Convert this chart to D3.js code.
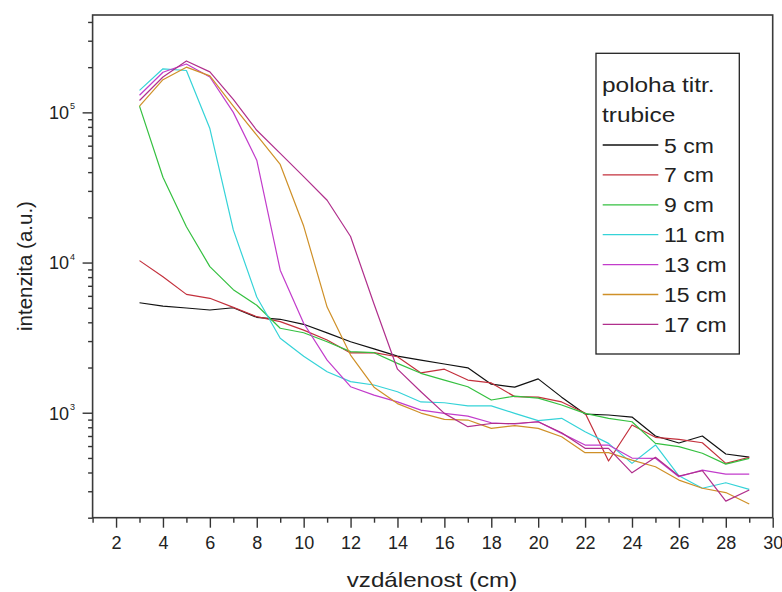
<!DOCTYPE html>
<html><head><meta charset="utf-8">
<script src="https://cdn.jsdelivr.net/npm/d3@7"></script>
<style>body{margin:0;background:#fff}svg{display:block}text{font-family:"Liberation Sans",Arial,sans-serif;fill:#222}</style>
</head><body><svg id="c" width="782" height="592"></svg>
<script>
const xs = [3,4,5,6,7,8,9,10,11,12,13,14,15,16,17,18,19,20,21,22,23,24,25,26,27,28,29];
const s5  = [5400,5130,4980,4830,5000,4320,4190,3880,3400,2970,2660,2380,2240,2110,1990,1550,1480,1680,1270,980,966,936,700,629,700,531,507];
const s7  = [10300,8040,6140,5780,5030,4360,4040,3550,3050,2500,2510,2360,1840,1950,1650,1580,1280,1270,1180,997,477,828,686,665,631,460,505];
const s9  = [110000,37000,17300,9400,6600,5200,3650,3410,2970,2550,2510,2130,1830,1650,1490,1215,1290,1250,1125,991,918,871,625,594,537,455,497];
const s11 = [140000,195000,190000,78000,16500,5900,3130,2380,1875,1610,1530,1380,1180,1165,1110,1110,990,885,918,747,625,460,610,380,314,342,309];
const s13 = [130000,185000,210000,172000,100000,48000,8900,3940,2240,1490,1310,1180,1040,990,950,857,841,871,729,609,609,499,497,375,415,390,390];
const s15 = [110000,165000,200000,175000,110000,70500,45000,17500,5050,2420,1480,1150,995,903,894,787,820,787,692,542,542,484,437,356,314,294,247];
const s17 = [120000,172000,220000,186000,122000,76000,53300,37300,26000,14900,5300,1950,1380,990,807,848,848,871,736,579,579,398,505,379,411,258,306];
const seriesNames = ["5 cm","7 cm","9 cm","11 cm","13 cm","15 cm","17 cm"];
const seriesColors = ["#111111","#c3303c","#35c040","#35d3d8","#c23ccb","#cf9028","#b02f8c"];
const seriesValues = [s5,s7,s9,s11,s13,s15,s17];
const xMajor = [2,4,6,8,10,12,14,16,18,20,22,24,26,28,30];
const xMinor = [1,3,5,7,9,11,13,15,17,19,21,23,25,27,29];
const yMajorExp = [3,4,5];
const legendTitle = ["poloha titr.","trubice"];
const xTitle = "vzdálenost (cm)";
const yTitle = "intenzita (a.u.)";

const L=92.6,R=772.7,T=15,B=517.7;
const svg=d3.select("#c");
const x=d3.scaleLinear().domain([1,30]).range([L,R]);
const y=d3.scaleLog().domain([200,445000]).range([B,T]);

function stretch(sel,f){sel.each(function(){const w=this.getComputedTextLength();this.setAttribute("textLength",w*f);this.setAttribute("lengthAdjust","spacingAndGlyphs");});}

// frame
svg.append("rect").attr("x",L).attr("y",T).attr("width",R-L).attr("height",B-T)
  .attr("fill","none").attr("stroke","#3a3a3a").attr("stroke-width",1.6);

// x axis ticks
const gx=svg.append("g").attr("transform",`translate(0,${B})`);
gx.call(d3.axisBottom(x).tickValues(xMajor).tickSize(10).tickFormat(d3.format("d")));
const gxm=svg.append("g").attr("transform",`translate(0,${B})`);
gxm.call(d3.axisBottom(x).tickValues(xMinor).tickSize(5).tickFormat(""));
[gx,gxm].forEach(g=>{g.select(".domain").remove();g.selectAll("line").attr("stroke","#333").attr("stroke-width",1.4);});
gx.selectAll("text").attr("font-size",18).attr("fill","#333").attr("y",19).attr("dy","0.71em")
  .style("font-family","'Liberation Sans',Arial,sans-serif");

// y axis ticks
const minors=[];
[2,3,4,5].forEach(e=>{for(let m=1;m<10;m++){const v=m*Math.pow(10,e);if(m>1&&v>=200&&v<=445000)minors.push(v);}});
const gy=svg.append("g").attr("transform",`translate(${L},0)`);
gy.call(d3.axisLeft(y).tickValues(yMajorExp.map(e=>Math.pow(10,e))).tickSize(10).tickFormat(""));
const gym=svg.append("g").attr("transform",`translate(${L},0)`);
gym.call(d3.axisLeft(y).tickValues(minors).tickSize(4.5).tickFormat(""));
[gy,gym].forEach(g=>{g.select(".domain").remove();g.selectAll("line").attr("stroke","#333").attr("stroke-width",1.4);});
yMajorExp.forEach(e=>{
  const yy=y(Math.pow(10,e));
  svg.append("text").attr("x",69).attr("y",yy+6.8).attr("text-anchor","end").attr("font-size",18).attr("fill","#333").text("10");
  svg.append("text").attr("x",70).attr("y",yy-3).attr("font-size",9).attr("fill","#333").text(e);
});

// lines
const line=d3.line().x((d,i)=>x(xs[i])).y(d=>y(d));
seriesValues.forEach((vals,k)=>{
  svg.append("path").datum(vals).attr("d",line).attr("fill","none")
    .attr("stroke",seriesColors[k]).attr("stroke-width",1.2).attr("stroke-linejoin","round");
});

// legend
svg.append("rect").attr("x",596).attr("y",53.3).attr("width",143.3).attr("height",300.7)
  .attr("fill","#fff").attr("stroke","#222").attr("stroke-width",1.3);
legendTitle.forEach((t,i)=>{
  svg.append("text").attr("x",602).attr("y",92+i*29.8).attr("font-size",20.5).attr("fill","#222").text(t).call(stretch,1.19);
});
seriesNames.forEach((n,i)=>{
  const by=152.5+i*29.9;
  svg.append("line").attr("x1",602.7).attr("x2",658.3).attr("y1",by-7.5).attr("y2",by-7.5)
    .attr("stroke",seriesColors[i]).attr("stroke-width",1.3);
  svg.append("text").attr("x",664).attr("y",by).attr("font-size",20.5).attr("fill","#222").text(n).call(stretch,1.12);
});

// axis titles
svg.append("text").attr("x",432).attr("y",587).attr("text-anchor","middle").attr("font-size",21).attr("fill","#222").text(xTitle).call(stretch,1.15);
svg.append("text").attr("transform","translate(32,266) rotate(-90)").attr("text-anchor","middle").attr("font-size",20.5).attr("fill","#222").text(yTitle);
</script></body></html>
